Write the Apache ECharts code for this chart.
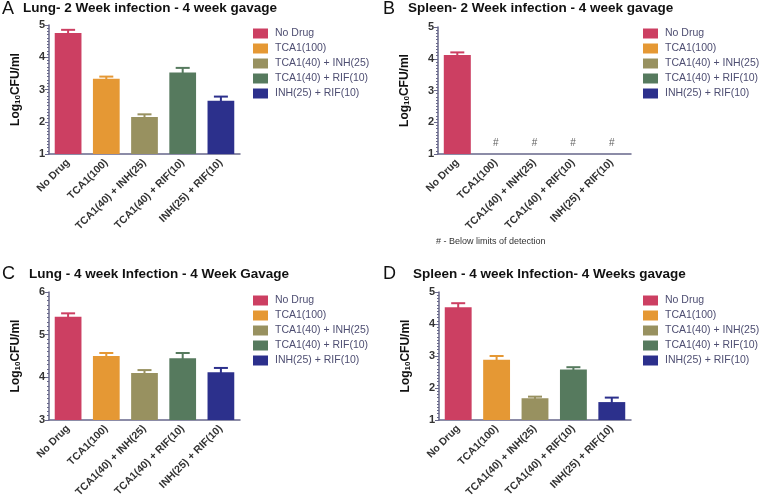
<!DOCTYPE html>
<html>
<head>
<meta charset="utf-8">
<script src="https://cdn.jsdelivr.net/npm/echarts@6/dist/echarts.min.js"></script>
<style>
  html, body { margin: 0; padding: 0; background: #fff; }
  #main { width: 762px; height: 495px; }
</style>
</head>
<body>
<div id="main"></div>
<script>
// groups (x categories, also legend entries)
var groups = ['No Drug', 'TCA1(100)', 'TCA1(40) + INH(25)', 'TCA1(40) + RIF(10)', 'INH(25) + RIF(10)'];
var colors = ['#cc3f62', '#e59834', '#989160', '#567a5e', '#2c308c'];

// mean log10 CFU/ml and top of error bar, per panel
var meanA = [4.75, 3.33, 2.15, 3.53, 2.65];
var errA  = [4.85, 3.40, 2.23, 3.67, 2.78];
var meanB = [4.12, null, null, null, null];
var errB  = [4.20, null, null, null, null];
var hashB = [null, 1.35, 1.35, 1.35, 1.35];   // "#" below detection limit
var meanC = [5.42, 4.50, 4.10, 4.45, 4.12];
var errC  = [5.50, 4.57, 4.17, 4.57, 4.22];
var meanD = [4.52, 2.88, 1.68, 2.58, 1.56];
var errD  = [4.65, 3.00, 1.73, 2.65, 1.70];

var yMin = [1, 1, 3, 1];
var yMax = [5, 5, 6, 5];

var letters = ['A', 'B', 'C', 'D'];
var titles = [
  'Lung- 2 Week infection - 4 week gavage',
  'Spleen- 2 Week infection - 4 week gavage',
  'Lung - 4 week Infection - 4 Week Gavage',
  'Spleen - 4 week Infection- 4 Weeks gavage'
];

var chart = echarts.init(document.getElementById('main'));

var axisColor = '#67678a';
var grids = [
  {left: 49, top: 25, width: 191, height: 129, outerBoundsMode: 'none'},
  {left: 438, top: 27, width: 193, height: 127, outerBoundsMode: 'none'},
  {left: 49, top: 292, width: 191, height: 128, outerBoundsMode: 'none'},
  {left: 439, top: 292, width: 192, height: 128, outerBoundsMode: 'none'}
];
var letterPos = [[2, 0], [383, 0], [2, 265], [383, 265]];
var titlePos = [[23, 1], [408, 1], [29, 267], [413, 267]];
var legendPos = [[253, 28], [643, 28], [253, 295], [643, 295]];

var means = [meanA, meanB, meanC, meanD];
var errs = [errA, errB, errC, errD];

var xAxes = [], yAxes = [], series = [], legends = [], titleList = [];

for (var p = 0; p < 4; p++) {
  xAxes.push({
    type: 'category', gridIndex: p, data: groups,
    axisLine: {lineStyle: {color: axisColor, width: 1.5}},
    axisTick: {alignWithLabel: true, length: 4, lineStyle: {color: axisColor}},
    axisLabel: {rotate: 45, interval: 0, fontSize: 10.5, fontWeight: 'bold', color: '#333', margin: 7,
      fontFamily: 'Liberation Sans'}
  });
  yAxes.push({
    type: 'value', gridIndex: p, min: yMin[p], max: yMax[p], interval: 1,
    name: '{a|Log}{s|10}{a|CFU/ml}', nameLocation: 'middle', nameGap: 27,
    nameTextStyle: {rich: {
      a: {fontSize: 12, fontWeight: 'bold', color: '#111', fontFamily: 'Liberation Sans'},
      s: {fontSize: 8, fontWeight: 'bold', color: '#111', fontFamily: 'Liberation Sans', verticalAlign: 'bottom', padding: [4, 0, 0, 0]}
    }},
    splitLine: {show: false},
    axisLine: {show: true, lineStyle: {color: axisColor, width: 1.5}},
    axisTick: {show: true, length: 4, lineStyle: {color: axisColor}},
    minorTick: {show: true, splitNumber: 10, length: 2, lineStyle: {color: axisColor}},
    axisLabel: {fontSize: 11, fontWeight: 'bold', color: '#333', margin: 4, fontFamily: 'Liberation Sans'}
  });

  for (var g = 0; g < groups.length; g++) {
    var d = groups.map(function (_, i) {
      return (i === g && means[p][i] != null) ? means[p][i] : '-';
    });
    series.push({
      type: 'bar', name: groups[g], xAxisIndex: p, yAxisIndex: p,
      data: d, barWidth: '70%', barGap: '-100%',
      itemStyle: {color: colors[g]}, silent: true
    });
  }

  var errData = [];
  for (var i = 0; i < groups.length; i++) {
    if (means[p][i] != null) errData.push([i, means[p][i], errs[p][i]]);
  }
  series.push({
    type: 'custom', xAxisIndex: p, yAxisIndex: p, data: errData, silent: true, z: 3,
    renderItem: function (params, api) {
      var idx = api.value(0);
      var base = api.coord([idx, api.value(1)]);
      var top = api.coord([idx, api.value(2)]);
      var hw = 7;
      var st = {stroke: colors[idx], lineWidth: 2};
      return {type: 'group', children: [
        {type: 'line', shape: {x1: top[0], y1: top[1], x2: base[0], y2: base[1] + 1}, style: st},
        {type: 'line', shape: {x1: top[0] - hw, y1: top[1], x2: top[0] + hw, y2: top[1]}, style: st}
      ]};
    }
  });

  legends.push({
    orient: 'vertical', left: legendPos[p][0], top: legendPos[p][1],
    data: groups, itemWidth: 15, itemHeight: 10, itemGap: 4, padding: 0,
    selectedMode: false, icon: 'rect',
    textStyle: {fontSize: 10.5, color: '#4e4e72', fontFamily: 'Liberation Sans', padding: [0, 0, 0, 2]}
  });

  titleList.push({text: letters[p], left: letterPos[p][0], top: letterPos[p][1], padding: 0,
    textStyle: {fontSize: 18, fontWeight: 'normal', color: '#111', fontFamily: 'Liberation Sans'}});
  titleList.push({text: titles[p], left: titlePos[p][0], top: titlePos[p][1], padding: 0,
    textStyle: {fontSize: 13.5, fontWeight: 'bold', color: '#111', fontFamily: 'Liberation Sans'}});
}

// "#" markers for panel B
series.push({
  type: 'scatter', xAxisIndex: 1, yAxisIndex: 1, symbolSize: 1, silent: true,
  itemStyle: {color: 'rgba(0,0,0,0)'},
  data: hashB.map(function (v) { return v == null ? '-' : v; }),
  label: {show: true, position: 'inside', formatter: '#', fontSize: 10, color: '#333', fontFamily: 'Liberation Sans'}
});

chart.setOption({
  animation: false,
  backgroundColor: '#fff',
  title: titleList,
  legend: legends,
  grid: grids,
  xAxis: xAxes,
  yAxis: yAxes,
  series: series,
  graphic: [{
    type: 'text', left: 436, top: 237,
    style: {text: '# - Below limits of detection', fontSize: 9, fill: '#333', fontFamily: 'Liberation Sans'}
  }]
});
</script>
</body>
</html>
